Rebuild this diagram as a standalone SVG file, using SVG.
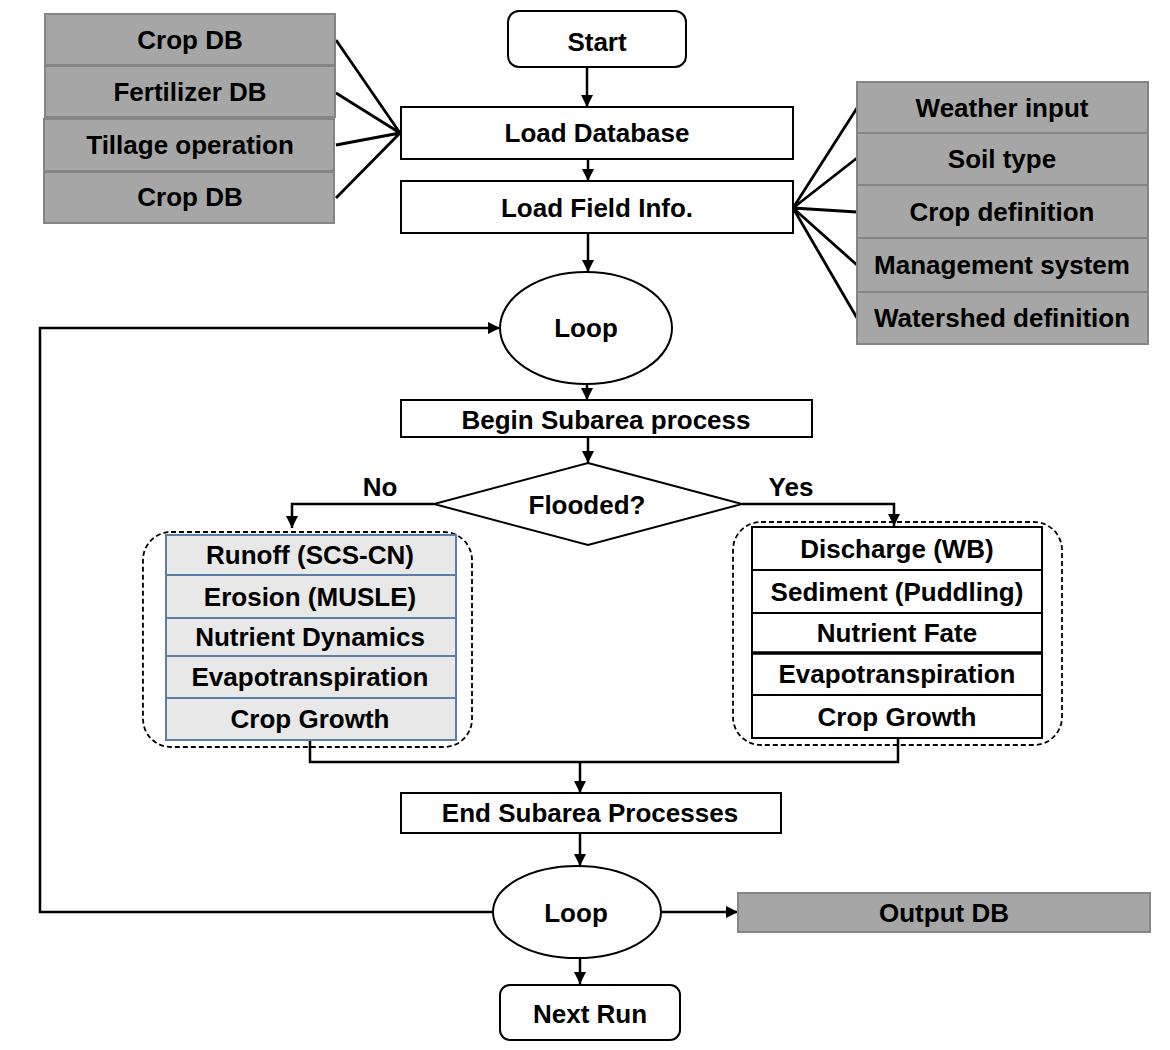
<svg xmlns="http://www.w3.org/2000/svg" width="1170" height="1050" viewBox="0 0 1170 1050">
<defs>
<marker id="arr" viewBox="0 0 10 10" refX="10" refY="5" markerWidth="12" markerHeight="12" markerUnits="userSpaceOnUse" orient="auto">
<path d="M0 0 L10 5 L0 10 Z" fill="#000"/>
</marker>
<style>
text{font-family:"Liberation Sans",Arial,sans-serif;font-weight:bold;font-size:26px;fill:#000;text-anchor:middle}
.gray{fill:#a6a6a6;stroke:#858585;stroke-width:2}
.box{fill:#fff;stroke:#000;stroke-width:2}
.lrow{fill:#e8e8e8;stroke:#5b7ea8;stroke-width:2}
.rrow{fill:#fff;stroke:#000;stroke-width:2}
.dash{fill:none;stroke:#000;stroke-width:1.8;stroke-dasharray:5 3}
.con{fill:none;stroke:#000;stroke-width:2.5}
.fan{fill:none;stroke:#000;stroke-width:2.8}
</style>
</defs>
<rect width="1170" height="1050" fill="#fff"/>

<g id="connectors">
<path class="fan" d="M336 40 L400 133 M336 93 L400 133 M336 145 L400 133 M336 198 L400 133"/>
<path class="fan" d="M793 208 L857 108 M793 208 L857 158 M793 208 L857 212 M793 208 L857 265 M793 208 L857 318"/>
<path class="con" d="M587 67 V107" marker-end="url(#arr)"/>
<path class="con" d="M588 159 V181" marker-end="url(#arr)"/>
<path class="con" d="M588 233 V272" marker-end="url(#arr)"/>
<path class="con" d="M494 912 H40 V328 H500" marker-end="url(#arr)"/>
<path class="con" d="M587 384 V400" marker-end="url(#arr)"/>
<path class="con" d="M588 437 V463" marker-end="url(#arr)"/>
<path class="con" d="M434 504 H292 V528" marker-end="url(#arr)"/>
<path class="con" d="M742 504 H894 V526" marker-end="url(#arr)"/>
<path class="con" d="M310 740 V762 H898 V738"/>
<path class="con" d="M580 762 V793" marker-end="url(#arr)"/>
<path class="con" d="M580 833 V866" marker-end="url(#arr)"/>
<path class="con" d="M662 912 H738" marker-end="url(#arr)"/>
<path class="con" d="M580 958 V984" marker-end="url(#arr)"/>
</g>

<g id="left-inputs">
<rect class="gray" x="45" y="14" width="290" height="51"/>
<text x="190" y="49">Crop DB</text>
<rect class="gray" x="45" y="66" width="290" height="51"/>
<text x="190" y="101">Fertilizer DB</text>
<rect class="gray" x="44" y="119" width="290" height="52"/>
<text x="190" y="154">Tillage operation</text>
<rect class="gray" x="44" y="172" width="290" height="51"/>
<text x="190" y="206">Crop DB</text>
</g>

<g id="right-inputs">
<rect class="gray" x="857" y="82" width="291" height="51"/>
<text x="1002" y="117">Weather input</text>
<rect class="gray" x="857" y="133" width="291" height="52"/>
<text x="1002" y="168">Soil type</text>
<rect class="gray" x="857" y="185" width="291" height="53"/>
<text x="1002" y="221">Crop definition</text>
<rect class="gray" x="857" y="238" width="291" height="54"/>
<text x="1002" y="274">Management system</text>
<rect class="gray" x="857" y="292" width="291" height="52"/>
<text x="1002" y="327">Watershed definition</text>
</g>

<g id="start">
<rect class="box" x="508" y="11" width="178" height="56" rx="11"/>
<text x="597" y="51">Start</text>
</g>

<g id="load-database">
<rect class="box" x="401" y="107" width="392" height="52"/>
<text x="597" y="142">Load Database</text>
</g>

<g id="load-field">
<rect class="box" x="401" y="181" width="392" height="52"/>
<text x="597" y="217">Load Field Info.</text>
</g>

<g id="loop1">
<ellipse class="box" cx="586" cy="328" rx="86" ry="56"/>
<text x="586" y="337">Loop</text>
</g>

<g id="begin-subarea">
<rect class="box" x="401" y="400" width="411" height="37"/>
<text x="606" y="429">Begin Subarea process</text>
</g>

<g id="flooded">
<polygon class="box" points="588,463 742,504 588,545 434,504"/>
<text x="587" y="514">Flooded?</text>
<text x="380" y="496">No</text>
<text x="791" y="496">Yes</text>
</g>

<g id="no-processes">
<rect class="dash" x="143" y="532" width="329" height="215" rx="28"/>
<rect class="lrow" x="166" y="535" width="290" height="40"/>
<text x="310" y="564">Runoff (SCS-CN)</text>
<rect class="lrow" x="166" y="575" width="290" height="43"/>
<text x="310" y="606">Erosion (MUSLE)</text>
<rect class="lrow" x="166" y="618" width="290" height="38"/>
<text x="310" y="646">Nutrient Dynamics</text>
<rect class="lrow" x="166" y="656" width="290" height="42"/>
<text x="310" y="686">Evapotranspiration</text>
<rect class="lrow" x="166" y="698" width="290" height="42"/>
<text x="310" y="728">Crop Growth</text>
</g>

<g id="yes-processes">
<rect class="dash" x="733" y="522" width="329" height="223" rx="28"/>
<rect class="rrow" x="752" y="527" width="290" height="43"/>
<text x="897" y="558">Discharge (WB)</text>
<rect class="rrow" x="752" y="570" width="290" height="43"/>
<text x="897" y="601">Sediment (Puddling)</text>
<rect class="rrow" x="752" y="613" width="290" height="40"/>
<text x="897" y="642">Nutrient Fate</text>
<rect class="rrow" x="752" y="653" width="290" height="42"/>
<line x1="752" y1="653" x2="1042" y2="653" stroke="#000" stroke-width="3.5"/>
<text x="897" y="683">Evapotranspiration</text>
<rect class="rrow" x="752" y="695" width="290" height="43"/>
<text x="897" y="726">Crop Growth</text>
</g>

<g id="end-subarea">
<rect class="box" x="401" y="793" width="380" height="40"/>
<text x="590" y="822">End Subarea Processes</text>
</g>

<g id="loop2">
<ellipse class="box" cx="577" cy="912" rx="84" ry="46"/>
<text x="576" y="922">Loop</text>
</g>

<g id="output-db">
<rect class="gray" x="738" y="893" width="412" height="39"/>
<text x="944" y="922">Output DB</text>
</g>

<g id="next-run">
<rect class="box" x="500" y="985" width="180" height="55" rx="10"/>
<text x="590" y="1023">Next Run</text>
</g>
</svg>
